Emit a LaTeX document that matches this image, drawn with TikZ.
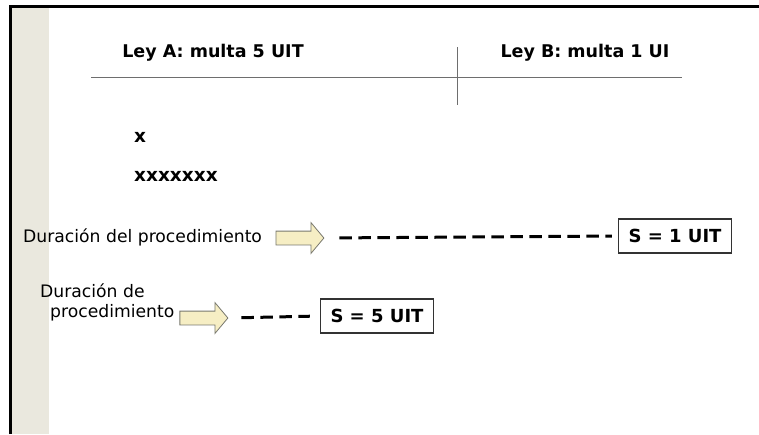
\documentclass[tikz,border=0pt]{standalone}
\usepackage{fontspec}
\setmainfont{DejaVu Sans}
\usetikzlibrary{shapes.arrows}
\definecolor{stripefill}{RGB}{234,232,222}
\definecolor{arrowfill}{RGB}{246,238,196}
\definecolor{arrowline}{RGB}{120,120,110}
\definecolor{rulegray}{RGB}{110,110,110}
\tikzset{
  titletext/.style={font=\fontsize{17.5}{20}\selectfont\bfseries, inner sep=0pt},
  boldtext/.style={font=\fontsize{18.5}{21}\selectfont\bfseries, inner sep=0pt, anchor=west},
  plaintext/.style={font=\fontsize{17.2}{20}\selectfont, inner sep=0pt, anchor=west},
  resultbox/.style={draw=black!80, line width=1.2pt, font=\fontsize{18}{20}\selectfont\bfseries,
    minimum width=113pt, minimum height=34pt, inner sep=2pt},
  fatarrow/.style={single arrow, draw=arrowline, fill=arrowfill, line width=0.8pt,
    minimum height=48pt, inner sep=6.5pt, single arrow head extend=8.5pt,
    single arrow tip angle=100},
  dashline/.style={line width=3pt, dash pattern=on 12.5pt off 6.5pt}
}
\begin{document}
\begin{tikzpicture}[x=1pt,y=-1pt]
\useasboundingbox (0,0) rectangle (759,434);
\fill[stripefill] (12,7) rectangle (49,434);
\draw[line width=3pt] (10,434) -- (10,6) -- (759,6);
\draw[rulegray, line width=1pt] (91,77) -- (682,77);
\draw[rulegray, line width=1pt] (457,47) -- (457,105);

\node[titletext] (la) at (213,53) {Ley A: multa 5 UIT};
\node[titletext] (lb) at (585,53) {Ley B: multa 1 UI};
\node[boldtext] (x1) at (134,137) {x};
\node[boldtext] (x7) at (134,176) {xxxxxxx};

\node[plaintext] (d1) at (23,237) {Duración del procedimiento};
\node[fatarrow] (a1) at (297,238) {};
\node[resultbox] (s1) at (675,236) {S = 1 UIT};
\draw[dashline, shorten <=15pt, shorten >=6pt] (a1.east) -- (s1.west);

\node[plaintext] (d2a) at (40,291) {Duración de};
\node[plaintext] (d2b) at (50,313) {procedimiento};
\node[fatarrow] (a2) at (201,318) {};
\node[resultbox] (s2) at (377,316) {S = 5 UIT};
\draw[dashline, shorten <=13pt, shorten >=10pt] (a2.east) -- (s2.west);
\end{tikzpicture}
\end{document}
